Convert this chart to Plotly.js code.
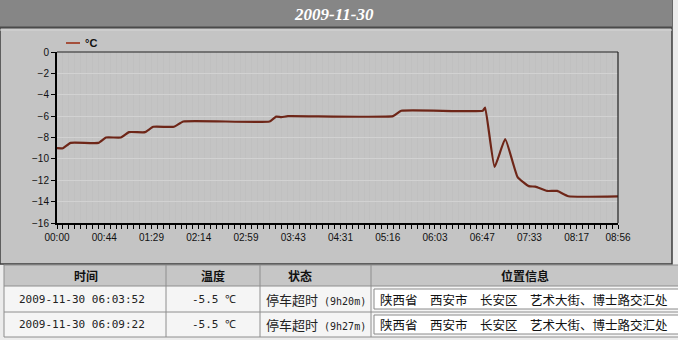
<!DOCTYPE html>
<html>
<head>
<meta charset="utf-8">
<script src="https://cdn.plot.ly/plotly-3.0.1.min.js"></script>
<style>
  html, body { margin: 0; padding: 0; background: #ececec; }
  #chart { width: 678px; height: 340px; }
</style>
</head>
<body>
<div id="chart"></div>
<script>
// Date shown in the header bar
const chartDate = '2009-11-30';

// Temperature trace: sample index (one sample per grid column) and reading in °C
const sampleIdx = [0, 1.0, 2.3, 7.0, 8.3, 10.8, 12.2, 14.9, 16.3, 19.8, 21.4, 36.0, 37.1, 38.0, 39.1,
                   56.9, 58.3, 72.1, 72.5, 74.1, 75.9, 78.0, 79.9, 81.0, 83.0, 84.7, 86.6, 95];
const tempC     = [-9.0, -9.0, -8.5, -8.5, -8.0, -8.0, -7.5, -7.5, -7.0, -7.0, -6.5, -6.5, -6.05, -6.1, -6.0,
                   -6.0, -5.5, -5.5, -5.2, -10.75, -8.15, -11.7, -12.55, -12.6, -13.0, -13.0, -13.5, -13.5];
const seriesName = '°C';

// Time labels on the x axis, placed every 8 samples
const tickIdx    = [0, 8, 16, 24, 32, 40, 48, 56, 64, 72, 80, 88, 95];
const tickLabels = ['00:00', '00:44', '01:29', '02:14', '02:59', '03:43', '04:31', '05:16',
                    '06:03', '06:47', '07:33', '08:17', '08:56'];

// Record table under the chart
const tableHeader    = ['时间', '温度', '状态', '位置信息'];
const tableTimes     = ['2009-11-30 06:03:52', '2009-11-30 06:09:22'];
const tableTemps     = ['-5.5 ℃', '-5.5 ℃'];
const tableStates    = ['停车超时', '停车超时'];
const tableDurations = ['(9h20m)', '(9h27m)'];
const tableLocations = ['陕西省 西安市 长安区 艺术大街、博士路交汇处', '陕西省 西安市 长安区 艺术大街、博士路交汇处'];

// ---- pixel helpers for the decorative frame (figure is 678 x 340) ----
const W = 678, H = 340;
const px = x => x / W;
const py = y => 1 - y / H;

const shapes = [];
const annotations = [];

function rect(x0, y0, x1, y1, fill, lineColor, lineWidth, layer) {
  shapes.push({ type: 'rect', xref: 'paper', yref: 'paper',
    x0: px(x0), x1: px(x1), y0: py(y1), y1: py(y0),
    fillcolor: fill, line: { color: lineColor || 'rgba(0,0,0,0)', width: lineWidth || 0 },
    layer: layer || 'below' });
}
function hline(x0, x1, y, color, width, layer) {
  shapes.push({ type: 'line', xref: 'paper', yref: 'paper',
    x0: px(x0), x1: px(x1), y0: py(y), y1: py(y),
    line: { color: color, width: width }, layer: layer || 'below' });
}
function vline(x, y0, y1, color, width, layer) {
  shapes.push({ type: 'line', xref: 'paper', yref: 'paper',
    x0: px(x), x1: px(x), y0: py(y0), y1: py(y1),
    line: { color: color, width: width }, layer: layer || 'below' });
}
function label(text, x, y, opts) {
  opts = opts || {};
  annotations.push({ xref: 'paper', yref: 'paper', x: px(x), y: py(y), text: text,
    showarrow: false, xanchor: opts.xanchor || 'center', yanchor: 'middle',
    font: { family: opts.family || 'Noto Sans CJK SC', size: opts.size || 12, color: opts.color || '#111' } });
}

// Gray panel holding the chart, with its header bar
rect(0, 0, 672, 264, '#c4c4c4', '#3c3c3c', 1.5);
rect(0, 0, 672, 27, '#868686');
hline(0, 672, 27.5, '#4a4a4a', 2);
hline(0, 672, 30, '#d6d6d6', 1);
label('<b><i>' + chartDate + '</i></b>', 334, 15,
      { family: 'Liberation Serif, Times New Roman, serif', size: 17, color: '#ffffff' });

// Thin top and right frame of the plot area
hline(57, 618, 52, '#222222', 1.2, 'above');
vline(618, 52, 223, '#222222', 1.2, 'above');

// Legend swatch
hline(66, 80, 43, '#a5503c', 2, 'above');
label('<b>' + seriesName + '</b>', 83, 43, { family: 'Liberation Sans, Arial, sans-serif', size: 11, xanchor: 'left', color: '#111' });

// Record table
const colEdges = [4, 166, 260, 371, 690];
const rowEdges = [265, 286, 312, 337];
rect(4, rowEdges[0], 690, rowEdges[1], '#c6c6c6');
rect(4, rowEdges[1], 690, rowEdges[3], '#f5f5f5');
rowEdges.forEach(y => hline(4, 690, y, '#8e8e8e', 1));
colEdges.slice(0, 4).forEach(x => vline(x, rowEdges[0], rowEdges[3], '#8e8e8e', 1));

const colCenters = [86, 213, 300, 525];
tableHeader.forEach((h, i) => label('<b>' + h + '</b>', colCenters[i], 275, { size: 12 }));

for (let r = 0; r < tableTimes.length; r++) {
  const yTop = rowEdges[r + 1], yBot = rowEdges[r + 2];
  const yc = (yTop + yBot) / 2;
  label(tableTimes[r], 82, yc, { family: 'DejaVu Sans Mono, monospace', size: 11, color: '#222' });
  label(tableTemps[r], 214, yc, { family: 'DejaVu Sans Mono, monospace', size: 11, color: '#222' });
  label(tableStates[r] + '<span style="font-family:DejaVu Sans Mono;font-size:10px"> ' + tableDurations[r] + '</span>', 316, yc,
        { size: 13, color: '#222' });
  // location shown inside an input-style box
  rect(374, yTop + 3, 700, yBot - 3, '#ffffff', '#8a8a8a', 1, 'below');
  label(tableLocations[r].replace(/ /g, '\u3000'), 378, yc, { size: 12.5, xanchor: 'left', color: '#111' });
}

const trace = {
  type: 'scatter',
  mode: 'lines',
  x: sampleIdx,
  y: tempC,
  name: seriesName,
  line: { color: '#6e2618', width: 2.2, shape: 'spline', smoothing: 0.4 },
  hoverinfo: 'skip'
};

const tickFont = { family: 'Liberation Sans, Arial, sans-serif', size: 10, color: '#111' };

const layout = {
  width: W, height: H,
  margin: { l: 0, r: 0, t: 0, b: 0 },
  paper_bgcolor: '#ececec',
  plot_bgcolor: '#ffffff',
  showlegend: false,
  xaxis: {
    domain: [px(57), px(618)],
    range: [0, 95],
    tickmode: 'array', tickvals: tickIdx, ticktext: tickLabels,
    ticks: 'outside', ticklen: 4, tickwidth: 1, tickcolor: '#000',
    showgrid: true, gridcolor: '#c0c0c0', gridwidth: 1,
    minor: { tick0: 0, dtick: 1, ticks: 'outside', ticklen: 4, tickwidth: 1, tickcolor: '#000',
             showgrid: true, gridcolor: '#c0c0c0', gridwidth: 1 },
    showline: true, linecolor: '#000', linewidth: 2,
    zeroline: false, tickfont: tickFont, fixedrange: true
  },
  yaxis: {
    domain: [py(223), py(52)],
    range: [-16, 0],
    tick0: 0, dtick: 2,
    ticks: 'outside', ticklen: 4, tickwidth: 1, tickcolor: '#000',
    showgrid: true, gridcolor: '#d2d2d2', gridwidth: 1,
    showline: true, linecolor: '#000', linewidth: 2,
    zeroline: false, tickfont: tickFont, fixedrange: true
  },
  shapes: shapes,
  annotations: annotations
};

Plotly.newPlot('chart', [trace], layout, { displayModeBar: false, staticPlot: true });
</script>
</body>
</html>
